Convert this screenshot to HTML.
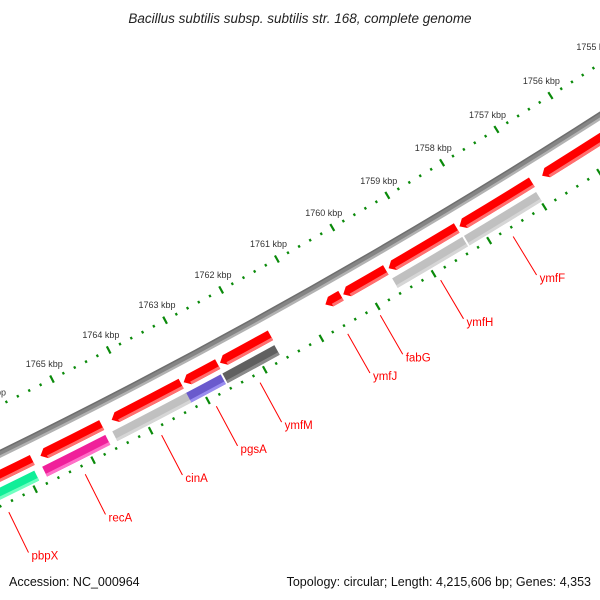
<!DOCTYPE html>
<html><head><meta charset="utf-8"><style>
html,body{margin:0;padding:0;background:#fff;}
svg{display:block;font-family:"Liberation Sans",sans-serif;}
</style></head><body>
<svg id="map" width="600" height="600" viewBox="0 0 600 600">
<rect width="600" height="600" fill="#fff"/>
<text x="300" y="23" text-anchor="middle" font-size="13.5" font-style="italic" fill="#222">Bacillus subtilis subsp. subtilis str. 168, complete genome</text>
<g id="ticks"></g>
<g id="backbone"></g>
<g id="fwd"></g>
<g id="cog"></g>
<g id="labels"></g>
<text x="9" y="586" font-size="12.5" fill="#111">Accession: NC_000964</text>
<text x="591" y="586" text-anchor="end" font-size="12.5" fill="#111">Topology: circular; Length: 4,215,606 bp; Genes: 4,353</text>
</svg>
<script>
// ---- data ----
const tickKbp = [1754,1755,1756,1757,1758,1759,1760,1761,1762,1763,1764,1765,1766,1767];
const fwdStarts = [1754500,1756964,1758330,1759609,1760411,1761667,1762600,1763243,1764634,1765840];
const fwdEnds   = [1756776,1758280,1759558,1760371,1760690,1762559,1763199,1764460,1765699,1767500];
const cogStarts = [1756973,1758312,1761672,1762620,1763226,1764639,1765871];
const cogEnds   = [1758312,1759604,1762620,1763276,1764548,1765765,1767500];
const cogColors = ["#c0c0c0","#c0c0c0","#606060","#6a5acd","#c0c0c0","#f0209a","#10ee98"];
const cogLight  = ["#d6d6d6","#d6d6d6","#8a8a8a","#9a8ef0","#d6d6d6","#ff70c8","#70ffc0"];
const labelNames = ["ymfF","ymfH","ymfJ","fabG","ymfM","pgsA","cinA","recA","pbpX"];
const labelBp    = [1757651,1758956,1760612,1760034,1762160,1762927,1763882,1765206,1766522];

// ---- geometry ----
const CX=-2640, CY=-4935, TH0=1.0484, K=1.07e-5, REF=1760000;
function th(bp){return TH0+(bp-REF)*K;}
function pt(bp,r){const t=th(bp);return [CX+r*Math.cos(t),CY+r*Math.sin(t)];}
const NS="http://www.w3.org/2000/svg";
function f(n){return n.toFixed(2);}
function band(b1,b2,r1,r2){
  const a=pt(b1,r1),b=pt(b2,r1),c=pt(b2,r2),d=pt(b1,r2);
  return `M${f(a[0])},${f(a[1])}A${r1},${r1} 0 0 1 ${f(b[0])},${f(b[1])}L${f(c[0])},${f(c[1])}A${r2},${r2} 0 0 0 ${f(d[0])},${f(d[1])}Z`;
}
function arrow(b1,b2,r1,r2){
  const rm=(r1+r2)/2, head=6/(rm*K);
  const bb=Math.max(b1,b2-head);
  const a=pt(b1,r1),b=pt(bb,r1),tip=pt(b2,rm),c=pt(bb,r2),d=pt(b1,r2);
  return `M${f(a[0])},${f(a[1])}A${r1},${r1} 0 0 1 ${f(b[0])},${f(b[1])}L${f(tip[0])},${f(tip[1])}L${f(c[0])},${f(c[1])}A${r2},${r2} 0 0 0 ${f(d[0])},${f(d[1])}Z`;
}

// ---- ticks ----
const gT=document.getElementById('ticks');
for(let bp=tickKbp[0]*1000; bp<=tickKbp[tickKbp.length-1]*1000; bp+=200){
  const major = bp%1000===0;
  [5957,6048].forEach(function(r){
    const h = major?4:1.3;
    const p1=pt(bp,r-h),p2=pt(bp,r+h);
    const ln=document.createElementNS(NS,'line');
    ln.setAttribute('x1',f(p1[0]));ln.setAttribute('y1',f(p1[1]));
    ln.setAttribute('x2',f(p2[0]));ln.setAttribute('y2',f(p2[1]));
    ln.setAttribute('stroke','#0a8a0a');ln.setAttribute('stroke-width',major?2.2:2.2);
    
    
    gT.appendChild(ln);
  });
}
tickKbp.forEach(function(k){
  const p=pt(k*1000,5940);
  const t=document.createElementNS(NS,'text');
  t.setAttribute('x',f(p[0]));t.setAttribute('y',f(p[1]+3));
  t.setAttribute('text-anchor','middle');t.setAttribute('font-size','9');t.setAttribute('fill','#333');
  t.textContent=k+' kbp';
  
  
  gT.appendChild(t);
});

// ---- backbone ----
const gB=document.getElementById('backbone');
[[5997.5,6004,'#858585'],[6002,6004.5,'#b2b2b2'],[5997,5998.5,'#6e6e6e']].forEach(function(s){
  const p=document.createElementNS(NS,'path');
  p.setAttribute('d',band(1753000,1768000,s[0],s[1]));p.setAttribute('fill',s[2]);
  
  
  gB.appendChild(p);
});

// ---- forward genes ----
const gF=document.getElementById('fwd');
for(let i=0;i<fwdStarts.length;i++){
  const p=document.createElementNS(NS,'path');
  p.setAttribute('d',arrow(fwdStarts[i],fwdEnds[i],6015,6026));p.setAttribute('fill','#ff0000');
  
  
  gF.appendChild(p);
  const rm=6020.5, head=6/(rm*K);
  const s=document.createElementNS(NS,'path');
  s.setAttribute('d',band(fwdStarts[i],Math.max(fwdStarts[i],fwdEnds[i]-head),6023,6026));s.setAttribute('fill','#ff7070');
  
  
  gF.appendChild(s);
}

// ---- COG track ----
const gC=document.getElementById('cog');
for(let i=0;i<cogStarts.length;i++){
  const p=document.createElementNS(NS,'path');
  p.setAttribute('d',band(cogStarts[i]+15,cogEnds[i]-15,6031,6042));p.setAttribute('fill',cogColors[i]);
  
  
  gC.appendChild(p);
  const s=document.createElementNS(NS,'path');
  s.setAttribute('d',band(cogStarts[i]+15,cogEnds[i]-15,6039,6042));s.setAttribute('fill',cogLight[i]);
  
  
  gC.appendChild(s);
}

// ---- labels ----
const gL=document.getElementById('labels');
for(let i=0;i<labelNames.length;i++){
  const a=pt(labelBp[i],6057),b=pt(labelBp[i],6102);
  const ln=document.createElementNS(NS,'line');
  ln.setAttribute('x1',f(a[0]));ln.setAttribute('y1',f(a[1]));
  ln.setAttribute('x2',f(b[0]));ln.setAttribute('y2',f(b[1]));
  ln.setAttribute('stroke','#ff0000');ln.setAttribute('stroke-width','1');
  
  
  gL.appendChild(ln);
  const t=document.createElementNS(NS,'text');
  t.setAttribute('x',f(b[0]+3));t.setAttribute('y',f(b[1]+7));
  t.setAttribute('font-size','11.5');t.setAttribute('fill','#ff0000');
  t.textContent=labelNames[i];
  
  
  gL.appendChild(t);
}
</script>
</body></html>
